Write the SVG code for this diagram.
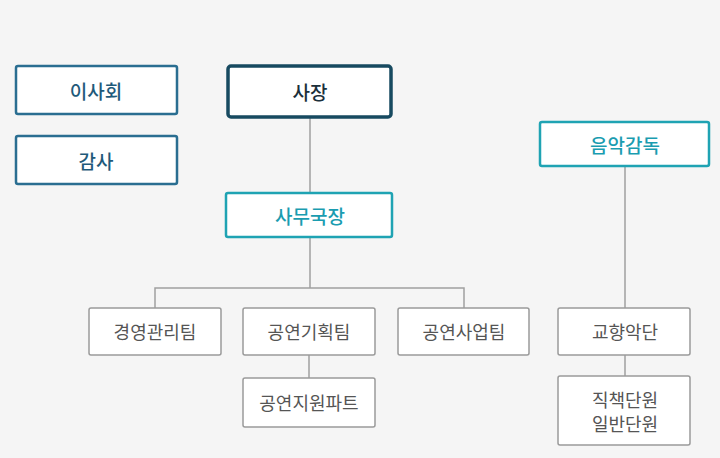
<svg xmlns="http://www.w3.org/2000/svg" width="720" height="458" viewBox="0 0 720 458">
<style>
.t{font-family:"Noto Sans CJK KR","Noto Sans",sans-serif;text-anchor:middle;dominant-baseline:central}
.b{fill:#fff;stroke:#2a6e91;stroke-width:2.5}
.tb{fill:#1f5a7a;font-size:19px;font-weight:500}
.c{fill:#fff;stroke:#1fa3b3;stroke-width:2.5}
.tc{fill:#1a9cb0;font-size:19px;font-weight:500}
.g{fill:#fff;stroke:#9a9a9a;stroke-width:1.5}
.tg{fill:#555;font-size:18px}
.ln{stroke:#a0a0a0;stroke-width:1.5;fill:none}
</style>
<rect width="720" height="458" fill="#f5f5f5"/>
<g id="connectors">
<path class="ln" d="M310 117V193M310 237V288M155 308V288H464V308M625 166V308M625 355V376M309 355V378"/>
</g>
<g id="n1"><rect class="b" x="16" y="66" width="161" height="48" rx="2"/><text class="t tb" x="96" y="90">이사회</text></g>
<g id="n2"><rect class="b" x="16" y="136" width="161" height="48" rx="2"/><text class="t tb" x="96" y="160">감사</text></g>
<g id="n3"><rect x="228" y="66" width="163" height="51" rx="3" fill="#fff" stroke="#174a60" stroke-width="3.5"/><text class="t" x="310" y="91" fill="#1b2f3a" font-size="19" font-weight="500">사장</text></g>
<g id="n4"><rect class="c" x="540" y="122" width="169" height="44" rx="2"/><text class="t tc" x="625" y="144">음악감독</text></g>
<g id="n5"><rect class="c" x="226" y="193" width="166" height="44" rx="2"/><text class="t tc" x="310" y="215">사무국장</text></g>
<g id="n6"><rect class="g" x="89" y="308" width="132" height="47" rx="2"/><text class="t tg" x="155" y="331">경영관리팀</text></g>
<g id="n7"><rect class="g" x="243" y="308" width="132" height="47" rx="2"/><text class="t tg" x="309" y="331">공연기획팀</text></g>
<g id="n8"><rect class="g" x="398" y="308" width="131" height="47" rx="2"/><text class="t tg" x="464" y="331">공연사업팀</text></g>
<g id="n9"><rect class="g" x="558" y="308" width="132" height="47" rx="2"/><text class="t tg" x="625" y="331">교향악단</text></g>
<g id="n10"><rect class="g" x="243" y="378" width="132" height="49" rx="2"/><text class="t tg" x="309" y="402">공연지원파트</text></g>
<g id="n11"><rect class="g" x="558" y="376" width="132" height="69" rx="2"/><text class="t tg" x="625" y="399">직책단원</text><text class="t tg" x="625" y="423">일반단원</text></g>
</svg>
